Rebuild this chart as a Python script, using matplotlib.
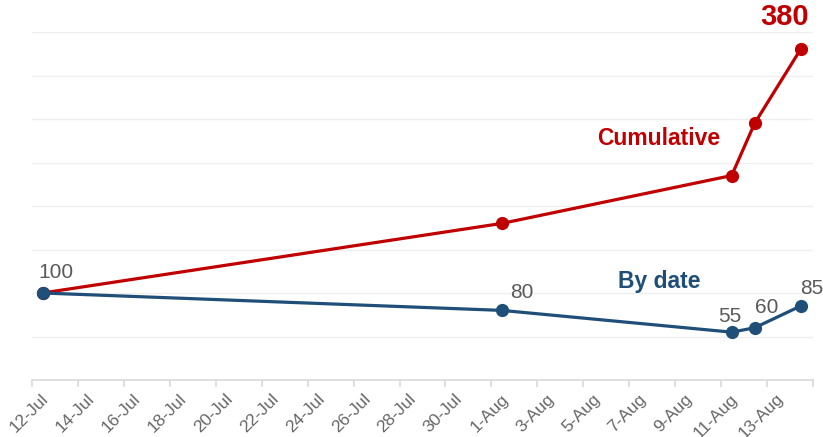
import matplotlib
matplotlib.use('Agg')
import matplotlib.pyplot as plt
import matplotlib.transforms as mtransforms
import pandas as pd

dates = ['2020-07-12', '2020-08-01', '2020-08-11', '2020-08-12', '2020-08-14']
cumulative = [100, 180, 235, 295, 380]
by_date = [100, 80, 55, 60, 85]
tick_dates = pd.date_range('2020-07-12', '2020-08-15', freq='2D')

RED = '#C00000'
BLUE = '#1F4E79'
GREY = '#595959'
plt.rcParams['font.family'] = ['Liberation Sans', 'DejaVu Sans']

x = pd.to_datetime(dates) + pd.Timedelta(hours=11)

fig = plt.figure(figsize=(8.23, 4.37), dpi=100)
ax = fig.add_axes([32 / 823, 57 / 437, 781 / 823, 348 / 437])

ax.plot(x, cumulative, color=RED, linewidth=2.3, marker='o', markersize=8.5, zorder=3, clip_on=False)
ax.plot(x, by_date, color=BLUE, linewidth=2.3, marker='o', markersize=8.5, zorder=3, clip_on=False)

ax.set_ylim(0, 400)
ax.set_xlim(tick_dates[0], tick_dates[-1])
ax.set_yticks(range(0, 401, 50))
ax.yaxis.grid(True, color='#EFEFEF', linewidth=1)
ax.tick_params(axis='y', left=False, labelleft=False)
ax.set_axisbelow(True)
for s in ['top', 'right', 'left']:
    ax.spines[s].set_visible(False)
ax.spines['bottom'].set_color('#D9D9D9')
ax.spines['bottom'].set_linewidth(1.2)

ax.set_xticks(tick_dates)
ax.set_xticklabels([d.strftime('%-d-%b') for d in tick_dates[:-1]] + [''])
ax.tick_params(axis='x', direction='out', length=5, width=1.2, color='#D9D9D9',
               labelcolor='#666666', labelsize=12.5, pad=3)
shift = mtransforms.ScaledTranslation(9 / 100, 0, fig.dpi_scale_trans)
for lab in ax.get_xticklabels():
    lab.set_rotation(45)
    lab.set_ha('right')
    lab.set_va('top')
    lab.set_rotation_mode('anchor')
    lab.set_transform(lab.get_transform() + shift)

# value labels
offsets = [(-4, 20, 'left'), (8, 18, 'left'), (-2, 16, 'center'), (12, 20, 'center'), (11, 18, 'center')]
for xi, v, (dx, dy, ha) in zip(x, by_date, offsets):
    ax.annotate(str(v), (xi, v), xytext=(dx, dy), textcoords='offset pixels',
                ha=ha, va='center', color=GREY, fontsize=15,
                annotation_clip=False)

ax.annotate(str(cumulative[-1]), (x[-1], cumulative[-1]), xytext=(-16, 32),
            textcoords='offset pixels', ha='center', va='center', color=RED,
            fontsize=21, fontweight='bold', annotation_clip=False)

ax.annotate('Cumulative', (x[2], cumulative[2]), xytext=(-11, 37), textcoords='offset pixels',
            ha='right', va='center', color=RED, fontsize=16.5, fontweight='bold')
ax.annotate('By date', (x[2], by_date[2]), xytext=(-31, 51), textcoords='offset pixels',
            ha='right', va='center', color=BLUE, fontsize=16.5, fontweight='bold')

fig.savefig('out.png', dpi=100)
